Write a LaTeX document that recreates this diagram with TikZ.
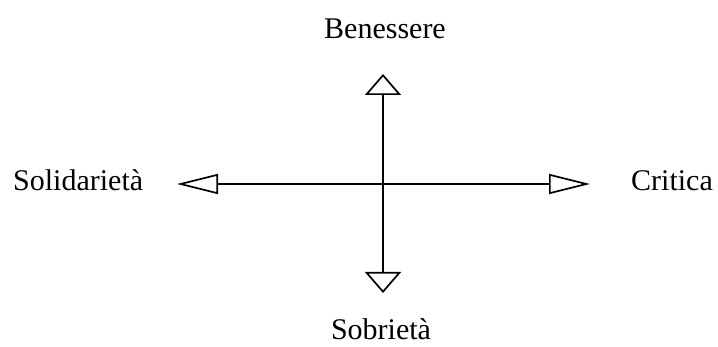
\documentclass[tikz,border=0pt]{standalone}
\usepackage{fontspec}
\setmainfont{Liberation Serif}
\usepackage{tikz}
\usetikzlibrary{arrows.meta, positioning}
\definecolor{mydark}{RGB}{0,0,0}
\tikzset{
  axislbl/.style={font=\fontsize{30}{36}\selectfont, inner sep=0pt, text=mydark},
  vaxis/.style={-{Triangle[open, length=21pt, width=36pt]}, line width=1.7pt, color=mydark},
  haxis/.style={-{Triangle[open, length=41pt, width=20pt]}, line width=1.7pt, color=mydark}
}

\begin{document}
\begin{tikzpicture}[x=1pt, y=-1pt]
  \useasboundingbox (0,0) rectangle (718,347);

  % Axis ends
  \coordinate (origin) at (383, 184);
  \coordinate (up) at (383, 74);
  \coordinate (down) at (383, 293);
  \coordinate (left) at (177, 184);
  \coordinate (right) at (590, 184);

  % Axes
  \draw[vaxis] (origin) -- (up);
  \draw[vaxis] (origin) -- (down);
  \draw[haxis] (origin) -- (left);
  \draw[haxis] (origin) -- (right);

  % Labels
  \node[axislbl, anchor=base] (benessere) at (385, 39) {Benessere};
  \node[axislbl, anchor=base west] (solidarieta) at (13, 191) {Solidarietà};
  \node[axislbl, anchor=base west] (critica) at (631, 191) {Critica};
  \node[axislbl, anchor=base] (sobrieta) at (381, 340) {Sobrietà};
\end{tikzpicture}
\end{document}
